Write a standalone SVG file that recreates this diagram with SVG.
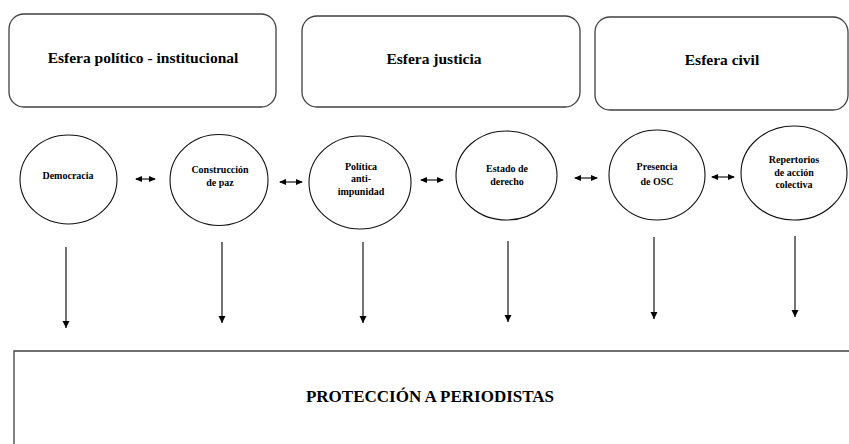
<svg xmlns="http://www.w3.org/2000/svg" width="849" height="444" viewBox="0 0 849 444">
<style>
.box{fill:#fff;stroke:#404040;stroke-width:1.3}
.node{fill:#fff;stroke:#111;stroke-width:1.1}
.t{font-family:'Liberation Serif','Times New Roman',Tinos,'DejaVu Serif',serif;font-weight:700;fill:#000;text-anchor:middle}
.h{font-size:15.5px}
.n{font-size:10px}
.c{stroke:#000;stroke-width:1.1;fill:none}
</style>
<defs>
<marker id="ah" markerWidth="7" markerHeight="7" refX="6" refY="3.5" orient="auto-start-reverse" markerUnits="userSpaceOnUse">
<path d="M0,0.5 L7,3.5 L0,6.5 Z" fill="#000"/>
</marker>
<marker id="ad" markerWidth="7" markerHeight="8" refX="7" refY="3.5" orient="auto" markerUnits="userSpaceOnUse">
<path d="M0,0 L7,3.5 L0,7 Z" fill="#000"/>
</marker>
</defs>
<rect width="849" height="444" fill="#fff"/>
<g id="esfera-politico">
<rect class="box" x="9" y="14" width="267" height="93" rx="15"/>
<text class="t h" x="143" y="63">Esfera político - institucional</text>
</g>
<g id="esfera-justicia">
<rect class="box" x="302" y="16" width="278" height="91" rx="15"/>
<text class="t h" x="434" y="64">Esfera justicia</text>
</g>
<g id="esfera-civil">
<rect class="box" x="595" y="17" width="253" height="93" rx="15"/>
<text class="t h" x="722" y="65">Esfera civil</text>
</g>
<g id="democracia">
<ellipse class="node" cx="68.5" cy="179.5" rx="48.5" ry="44.5"/>
<text class="t n" x="68" y="179">Democracia</text>
</g>
<g id="construccion-paz">
<ellipse class="node" cx="219" cy="180" rx="49" ry="45.5"/>
<text class="t n" x="220" y="173">Construcción</text>
<text class="t n" x="220" y="186">de paz</text>
</g>
<g id="politica-anti-impunidad">
<ellipse class="node" cx="360" cy="182.5" rx="51" ry="46.5"/>
<text class="t n" x="361" y="170">Política</text>
<text class="t n" x="361" y="182">anti-</text>
<text class="t n" x="361" y="195">impunidad</text>
</g>
<g id="estado-derecho">
<ellipse class="node" cx="506.5" cy="175.5" rx="50.5" ry="44.5"/>
<text class="t n" x="507" y="172">Estado de</text>
<text class="t n" x="507" y="185">derecho</text>
</g>
<g id="presencia-osc">
<ellipse class="node" cx="657" cy="175" rx="48" ry="45"/>
<text class="t n" x="657" y="170">Presencia</text>
<text class="t n" x="657" y="185">de OSC</text>
</g>
<g id="repertorios">
<ellipse class="node" cx="794" cy="173" rx="53" ry="47"/>
<text class="t n" x="794" y="163">Repertorios</text>
<text class="t n" x="794" y="176">de acción</text>
<text class="t n" x="794" y="188">colectiva</text>
</g>
<g id="proteccion-periodistas">
<path class="box" d="M849,351 H14 V450"/>
<text class="t" x="430" y="402" font-size="17">PROTECCIÓN A PERIODISTAS</text>
</g>
<g id="connectors">
<line class="c" x1="136" y1="179" x2="155" y2="179" marker-start="url(#ah)" marker-end="url(#ah)"/>
<line class="c" x1="280" y1="182" x2="302" y2="182" marker-start="url(#ah)" marker-end="url(#ah)"/>
<line class="c" x1="421" y1="180" x2="443" y2="180" marker-start="url(#ah)" marker-end="url(#ah)"/>
<line class="c" x1="575" y1="178" x2="597" y2="178" marker-start="url(#ah)" marker-end="url(#ah)"/>
<line class="c" x1="712" y1="177" x2="734" y2="177" marker-start="url(#ah)" marker-end="url(#ah)"/>
<line class="c" x1="66" y1="247" x2="66" y2="328" marker-end="url(#ad)"/>
<line class="c" x1="222" y1="242" x2="222" y2="323" marker-end="url(#ad)"/>
<line class="c" x1="363" y1="242" x2="363" y2="323" marker-end="url(#ad)"/>
<line class="c" x1="508" y1="241" x2="508" y2="322" marker-end="url(#ad)"/>
<line class="c" x1="654" y1="237" x2="654" y2="319" marker-end="url(#ad)"/>
<line class="c" x1="795" y1="236" x2="795" y2="317" marker-end="url(#ad)"/>
</g>
</svg>
